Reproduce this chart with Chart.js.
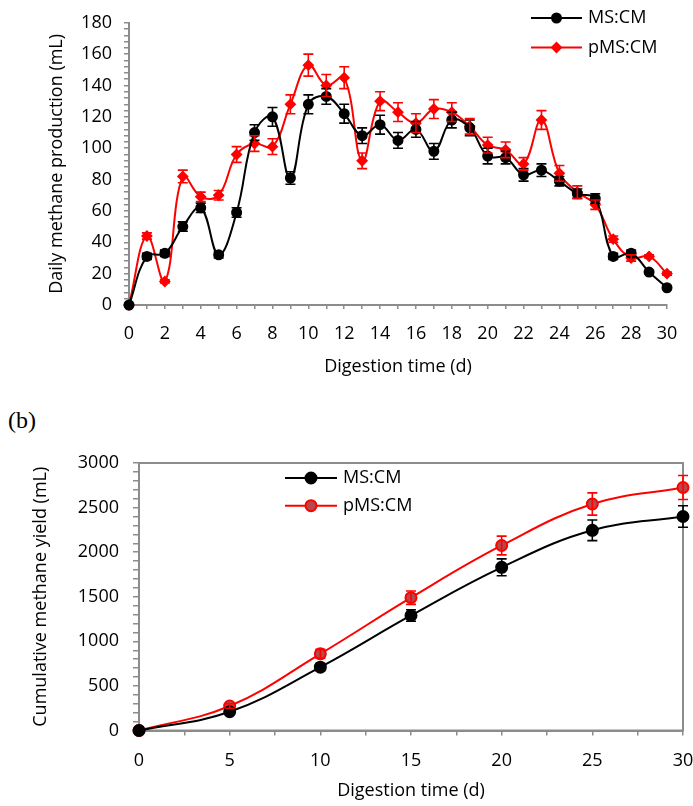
<!DOCTYPE html>
<html lang="en">
<head>
<meta charset="UTF-8">
<title>Methane production - MS:CM vs pMS:CM</title>
<script src="https://cdn.jsdelivr.net/npm/chart.js"></script>
<style>
  body { margin: 0; background: #fff; }
  .page { position: relative; width: 693px; height: 806px; overflow: hidden; }
  #boxA { position: absolute; left: 0; top: 0; width: 693px; height: 380px; }
  #boxB { position: absolute; left: 0; top: 380px; width: 693px; height: 426px; }
  #tagB { position: absolute; left: 8px; top: 407px; font: 24px "Liberation Serif", serif; }
</style>
</head>
<body>
<div class="page">
  <div id="boxA"><canvas id="dailyChart"></canvas></div>
  <div id="tagB">(b)</div>
  <div id="boxB"><canvas id="cumChart"></canvas></div>
</div>

<script>
// daily production (a)
const days = [0, 1, 2, 3, 4, 5, 6, 7, 8, 9, 10, 11, 12, 13, 14, 15, 16, 17, 18, 19, 20, 21, 22, 23, 24, 25, 26, 27, 28, 29, 30];
const msDaily     = [0, 31, 33, 50, 62, 32, 59, 110, 120, 81, 128, 133, 122, 108, 115, 105, 112, 98, 118, 113, 95, 94, 83, 86, 79, 71, 68, 31, 33, 21, 11];
const msDailyErr  = [0, 2, 2, 3, 3, 2, 3, 5, 6, 4, 6, 5, 6, 5, 6, 5, 5, 5, 5, 5, 5, 4, 4, 4, 3, 3, 3, 2, 2, 1, 1];
const pmsDaily    = [0, 44, 15, 82, 69, 70, 96, 103, 101, 128, 153, 140, 145, 92, 130, 123, 116, 125, 123, 114, 102, 99, 90, 118, 84, 72, 64, 42, 30, 31, 20];
const pmsDailyErr = [0, 2, 1, 4, 3, 3, 5, 5, 5, 6, 7, 7, 7, 5, 6, 6, 6, 6, 6, 5, 5, 5, 4, 6, 5, 4, 3, 2, 2, 1, 1];

// cumulative yield (b)
const cumDays   = [0, 5, 10, 15, 20, 25, 30];
const msCum     = [0, 210, 710, 1290, 1830, 2245, 2400];
const msCumErr  = [0, 20, 40, 65, 95, 115, 120];
const pmsCum    = [0, 275, 860, 1490, 2075, 2540, 2725];
const pmsCumErr = [0, 25, 50, 75, 105, 125, 135];

const FONT = '"Open Sans", sans-serif';
const AXIS_GREY = '#8c8c8c';
Chart.defaults.font.family = FONT;
Chart.defaults.font.size = 18;
Chart.defaults.color = '#000';

function pts(xs, ys) {
  return xs.map((x, i) => ({ x: x, y: ys[i] }));
}

// vertical error bars with caps, using the chart's own scales
const errorBars = {
  id: 'errorBars',
  afterDatasetsDraw(chart) {
    const ctx = chart.ctx;
    const xs = chart.scales.x, ys = chart.scales.y;
    chart.data.datasets.forEach(ds => {
      if (!ds.errors) return;
      ctx.save();
      ctx.strokeStyle = ds.borderColor;
      ctx.lineWidth = 1.6;
      ds.data.forEach((p, j) => {
        const e = ds.errors[j];
        if (!e) return;
        const px = xs.getPixelForValue(p.x);
        const top = ys.getPixelForValue(p.y + e);
        const bot = ys.getPixelForValue(p.y - e);
        ctx.beginPath();
        ctx.moveTo(px, top); ctx.lineTo(px, bot);
        ctx.moveTo(px - 5, top); ctx.lineTo(px + 5, top);
        ctx.moveTo(px - 5, bot); ctx.lineTo(px + 5, bot);
        ctx.stroke();
      });
      ctx.restore();
    });
  }
};

// legend drawn inside the plot like the original
const insideLegend = {
  id: 'insideLegend',
  afterDraw(chart, args, opts) {
    const ctx = chart.ctx;
    ctx.save();
    chart.data.datasets.forEach((ds, i) => {
      const y = opts.y + i * opts.gap;
      ctx.strokeStyle = ds.borderColor;
      ctx.lineWidth = ds.borderWidth;
      ctx.beginPath();
      ctx.moveTo(opts.x, y);
      ctx.lineTo(opts.x + opts.len, y);
      ctx.stroke();
      ctx.fillStyle = ds.pointBackgroundColor;
      ctx.strokeStyle = ds.pointBorderColor;
      ctx.lineWidth = ds.pointBorderWidth;
      Chart.helpers.drawPoint(ctx, { pointStyle: ds.pointStyle, radius: ds.pointRadius, borderWidth: ds.pointBorderWidth },
        opts.x + opts.len / 2, y);
      ctx.fillStyle = '#000';
      ctx.font = '18px ' + FONT;
      ctx.textBaseline = 'middle';
      ctx.fillText(ds.label, opts.x + opts.len + 6, y);
    });
    ctx.restore();
  }
};

// grey frame around the plot area (panel b only)
const plotFrame = {
  id: 'plotFrame',
  beforeDatasetsDraw(chart, args, opts) {
    if (!opts.show) return;
    const a = chart.chartArea;
    const ctx = chart.ctx;
    ctx.save();
    ctx.strokeStyle = AXIS_GREY;
    ctx.lineWidth = 2;
    ctx.strokeRect(a.left, a.top, a.right - a.left, a.bottom - a.top);
    ctx.restore();
  }
};

function series(label, xs, ys, errs, color, style, fill, radius) {
  return {
    label: label,
    data: pts(xs, ys),
    errors: errs,
    borderColor: color,
    borderWidth: 2,
    pointStyle: style,
    pointRadius: radius,
    pointHoverRadius: radius,
    pointBackgroundColor: fill,
    pointBorderColor: color,
    pointBorderWidth: 2,
    tension: 0.4,
    clip: false
  };
}

function axis(min, max, step, every, tickLen, pad, titleText, size) {
  return {
    type: 'linear',
    min: min, max: max,
    ticks: {
      stepSize: step,
      autoSkip: false,
      maxRotation: 0,
      padding: pad,
      callback: v => (v % every === 0 ? v : '')
    },
    grid: { drawOnChartArea: false, drawTicks: true, tickLength: tickLen, color: AXIS_GREY, lineWidth: 1.5 },
    border: { color: AXIS_GREY, width: 2 },
    title: { display: true, text: titleText, padding: { top: 0, bottom: 0 } },
    afterFit: size
  };
}

// panel (a)
new Chart(document.getElementById('dailyChart'), {
  type: 'line',
  data: {
    datasets: [
      series('MS:CM', days, msDaily, msDailyErr, '#000000', 'circle', '#000000', 4.5),
      series('pMS:CM', days, pmsDaily, pmsDailyErr, '#ff0000', 'rectRot', '#ff0000', 4.5)
    ]
  },
  options: {
    responsive: true,
    maintainAspectRatio: false,
    animation: false,
    layout: { padding: { left: 46, top: 22, right: 26, bottom: 2 } },
    plugins: {
      legend: { display: false },
      tooltip: { enabled: false },
      insideLegend: { x: 531, y: 18, gap: 29.5, len: 51 },
      plotFrame: { show: false }
    },
    scales: {
      x: axis(0, 30, 1, 2, 4, 14, 'Digestion time (d)', s => { s.height = 73; }),
      y: axis(0, 180, 4, 20, 5, 12, 'Daily methane production (mL)', s => { s.width = 83; })
    }
  },
  plugins: [errorBars, insideLegend, plotFrame]
});

// panel (b)
new Chart(document.getElementById('cumChart'), {
  type: 'line',
  data: {
    datasets: [
      series('MS:CM', cumDays, msCum, msCumErr, '#000000', 'circle', '#000000', 5.5),
      series('pMS:CM', cumDays, pmsCum, pmsCumErr, '#ff0000', 'circle', '#b5484a', 5.5)
    ]
  },
  options: {
    responsive: true,
    maintainAspectRatio: false,
    animation: false,
    layout: { padding: { left: 30, top: 83, right: 10, bottom: 4 } },
    plugins: {
      legend: { display: false },
      tooltip: { enabled: false },
      insideLegend: { x: 285, y: 98, gap: 27.7, len: 52 },
      plotFrame: { show: true }
    },
    scales: {
      x: axis(0, 30, 2.5, 5, 5, 15, 'Digestion time (d)', s => { s.height = 71.5; s.paddingRight = 0; }),
      y: axis(0, 3000, 100, 500, 6, 14, 'Cumulative methane yield (mL)', s => { s.width = 109; })
    }
  },
  plugins: [errorBars, insideLegend, plotFrame]
});
</script>
</body>
</html>
